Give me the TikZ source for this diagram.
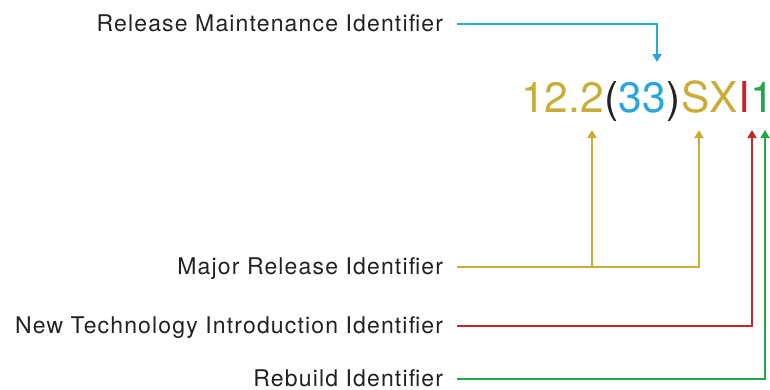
\documentclass[tikz,border=0pt]{standalone}
\usepackage{fontspec}
\setmainfont{TeX Gyre Heros}
\usetikzlibrary{positioning,arrows.meta}
\definecolor{mjrgold}{RGB}{201,173,58}
\definecolor{mntblue}{RGB}{42,166,221}
\definecolor{ntired}{RGB}{193,39,45}
\definecolor{rbdgreen}{RGB}{33,167,74}
\definecolor{txtgray}{RGB}{34,34,34}
\tikzset{
  lbl/.style={anchor=east, inner sep=0pt, outer xsep=14pt, text=txtgray,
    text height=15pt, text depth=0pt,
    font=\fontsize{23}{26}\selectfont\addfontfeatures{LetterSpace=5}},
  ver/.style={inner sep=0pt, font=\fontsize{42.5}{48}\selectfont},
  arr/.style={line width=2pt, -{Triangle[length=8pt,width=9pt]}}
}
\begin{document}
\begin{tikzpicture}[x=1pt,y=-1pt]
  \useasboundingbox (0,0) rectangle (770,389);
  % Draw version string
  \node (v1) [ver, anchor=base west, text=mjrgold] at (521,112) {12.2};
  \node (v2) [ver, right=0pt of v1.base east, anchor=base west, text=txtgray] {(};
  \node (v3) [ver, right=0pt of v2.base east, anchor=base west, text=mntblue] {33};
  \node (v4) [ver, right=0pt of v3.base east, anchor=base west, text=txtgray] {)};
  \node (v5) [ver, right=0pt of v4.base east, anchor=base west, text=mjrgold] {SX};
  \node (v6) [ver, right=0pt of v5.base east, anchor=base west, text=ntired] {I};
  \node (v7) [ver, right=0pt of v6.base east, anchor=base west, text=rbdgreen] {1};

  % Draw labels
  \node (rmi) [lbl] at (457,24)  {Release Maintenance Identifier};
  \node (mri) [lbl] at (457,267) {Major Release Identifier};
  \node (nti) [lbl] at (457,326) {New Technology Introduction Identifier};
  \node (rbd) [lbl] at (457,379) {Rebuild Identifier};

  % arrow tips
  \coordinate (mntTip) at (657,62);
  \coordinate (relTip) at (592,130);
  \coordinate (sxTip)  at (699,130);
  \coordinate (ntiTip) at (752,130);
  \coordinate (rbdTip) at (765,130);

  % Draw arrows
  \draw[arr,mntblue]  (rmi.east) -| (mntTip);
  \draw[arr,mjrgold]  (mri.east) -| (sxTip);
  \draw[arr,mjrgold]  (mri.east -| relTip) -- (relTip);
  \draw[arr,ntired]   (nti.east) -| (ntiTip);
  \draw[arr,rbdgreen] (rbd.east) -| (rbdTip);
\end{tikzpicture}
\end{document}
